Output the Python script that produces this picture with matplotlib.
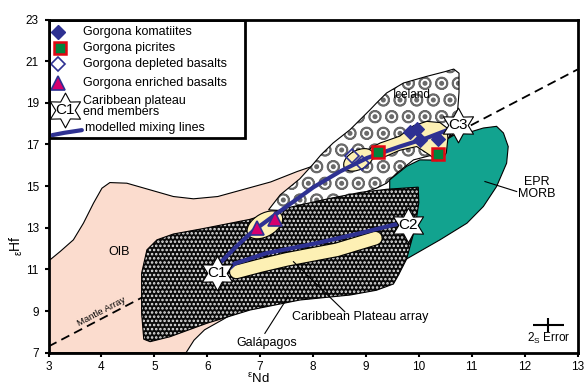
import numpy as np
import matplotlib
matplotlib.use("Agg")
import matplotlib.pyplot as plt
from matplotlib.patches import Polygon, Ellipse, Rectangle
from matplotlib.path import Path
import matplotlib.transforms as mtransforms
import matplotlib.patheffects as pe

plt.rcParams['font.family'] = ['Liberation Sans', 'DejaVu Sans']
plt.rcParams['hatch.linewidth'] = 1.2

# ---------------- data ----------------
x_ticks = [3, 4, 5, 6, 7, 8, 9, 10, 11, 12, 13]
y_ticks = [7, 9, 11, 13, 15, 17, 19, 21, 23]

mantle_x = [3.0, 13.0]
mantle_y = [7.3, 20.6]

oib_field = [(3.0, 7.0), (3.0, 11.4), (3.22, 11.86), (3.47, 12.42), (3.66, 13.22), (3.85, 14.18),
             (4.01, 14.9), (4.16, 15.17), (4.48, 15.14), (4.92, 14.82), (5.36, 14.5), (5.74, 14.39),
             (6.2, 14.5), (6.7, 14.85), (7.2, 15.2), (7.7, 15.7), (8.1, 16.05), (8.3, 15.6),
             (8.4, 14.0), (8.0, 10.5), (7.0, 9.6), (6.5, 8.9), (6.3, 8.6), (5.95, 8.1),
             (5.75, 7.6), (5.6, 7.0)]

iceland_field = [(7.16, 13.86), (7.38, 14.58), (7.75, 15.35), (8.0, 16.05), (8.15, 16.5), (8.38, 17.07),
                 (8.70, 17.71), (8.89, 18.19), (9.08, 18.67), (9.20, 18.99), (9.39, 19.47), (9.71, 19.95),
                 (10.15, 20.27), (10.5, 20.5), (10.66, 20.62), (10.76, 20.42), (10.76, 19.5), (10.73, 18.5),
                 (10.7, 18.0), (10.5, 17.0), (10.27, 16.5), (9.90, 16.26), (9.58, 15.62), (9.39, 15.14),
                 (9.20, 14.9), (8.5, 14.3), (7.6, 13.8)]

morb_field = [(9.45, 15.3), (9.77, 15.95), (10.02, 16.26), (10.3, 16.25), (10.46, 16.6), (10.5, 17.2),
              (10.7, 17.5), (10.91, 17.55), (11.22, 17.79), (11.47, 17.87), (11.6, 17.55), (11.69, 16.9),
              (11.66, 16.1), (11.47, 14.98), (11.22, 14.02), (10.91, 13.22), (10.4, 12.42), (9.96, 11.78),
              (9.74, 11.46), (9.6, 12.5), (9.45, 14.5)]

galapagos_field = [(4.86, 11.94), (5.05, 12.42), (5.36, 12.7), (5.9, 12.95), (6.8, 13.4), (7.5, 13.95),
                   (8.3, 14.4), (8.9, 14.7), (9.4, 14.85), (9.99, 14.95), (10.0, 14.2), (9.93, 13.0),
                   (9.77, 11.5), (9.62, 10.75), (9.52, 10.3), (9.2, 10.0), (8.7, 9.77), (7.75, 9.53),
                   (6.81, 9.05), (5.99, 8.41), (5.30, 7.77), (4.92, 7.53), (4.8, 7.65), (4.76, 8.89),
                   (4.76, 10.82)]

komatiite_field = [(9.02, 16.59), (9.1, 16.85), (9.27, 17.07), (9.64, 17.4), (9.90, 17.9), (10.15, 18.11),
                   (10.40, 18.05), (10.53, 17.8), (10.55, 17.3), (10.52, 16.6), (10.45, 16.3), (10.34, 16.22),
                   (10.2, 16.5), (9.96, 16.9), (9.64, 16.72), (9.33, 16.38), (9.1, 16.3)]

plateau_x = [6.55, 7.0, 7.5, 8.45, 9.18]
plateau_y = [10.88, 11.18, 11.48, 11.94, 12.5]

enriched_field_center = (7.09, 13.14)
depleted_field_center = (8.86, 16.26)

mix_c3_x = [6.27, 6.55, 6.87, 7.38, 8.01, 8.51, 9.02, 9.64, 10.15, 10.6]
mix_c3_y = [11.38, 12.1, 12.85, 13.8, 14.95, 15.7, 16.35, 16.9, 17.31, 17.75]
mix_c2_x = [6.42, 6.52, 7.12, 8.07, 8.89, 9.62]
mix_c2_y = [11.05, 11.28, 11.78, 12.26, 12.74, 13.2]

komatiite_x = [9.83, 9.96, 10.02, 10.37]
komatiite_y = [17.6, 17.72, 17.2, 17.25]
picrite_x = [9.23, 10.37]
picrite_y = [16.63, 16.55]
depleted_x = [8.73, 8.92]
depleted_y = [16.46, 16.11]
enriched_x = [6.94, 7.28]
enriched_y = [13.01, 13.41]

end_names = ['C1', 'C2', 'C3']
end_x = [6.18, 9.80, 10.75]
end_y = [10.82, 13.14, 17.95]

error_x, error_y = 12.45, 8.33
error_dx, error_dy = 0.29, 0.32

# ---------------- colours ----------------
NAVY = '#2E3192'
PINK = '#FBDCCE'
TEAL = '#12A38F'
YELLOW = '#FDF0B4'
GREEN = '#00843D'
RED = '#E30613'
MAGENTA = '#D6006E'

fig = plt.figure(figsize=(5.86, 3.87), dpi=100)
ax = fig.add_axes([0.0828, 0.0886, 0.9027, 0.861])
ax.set_xlim(3, 13)
ax.set_ylim(7, 23)

# fields
ax.add_patch(Polygon(oib_field, closed=True, fc=PINK, ec='black', lw=0.8, zorder=1))
ax.plot(mantle_x, mantle_y, color='black', lw=1.3, linestyle=(0, (5, 3)), zorder=1.5)

ax.add_patch(Polygon(iceland_field, closed=True, fc='white', ec='#6a6a6a', lw=0, hatch='O.', zorder=2))
ax.add_patch(Polygon(iceland_field, closed=True, fill=False, ec='black', lw=0.8, zorder=2.1))

ax.add_patch(Polygon(morb_field, closed=True, fc=TEAL, ec='black', lw=0.8, zorder=2.5))

ax.add_patch(Polygon(galapagos_field, closed=True, fc='#0a0a0a', ec='#e6e6e6', lw=0, hatch='....', zorder=3))
ax.add_patch(Polygon(galapagos_field, closed=True, fill=False, ec='black', lw=0.8, zorder=3.1))

# yellow fields
ax.plot(plateau_x, plateau_y, color=YELLOW, lw=9, solid_capstyle='round', zorder=4,
        path_effects=[pe.Stroke(linewidth=10.6, foreground='black'), pe.Normal()])
ax.add_patch(Polygon(komatiite_field, closed=True, fc=YELLOW, ec='black', lw=0.8, zorder=4))

def pix_ellipse(center, w_in, h_in, ang):
    tr = fig.dpi_scale_trans + mtransforms.ScaledTranslation(center[0], center[1], ax.transData)
    return Ellipse((0, 0), w_in, h_in, angle=ang, transform=tr, fc=YELLOW, ec='black', lw=0.8, zorder=4)

ax.add_patch(pix_ellipse(enriched_field_center, 0.39, 0.23, 30))
ax.add_patch(pix_ellipse(depleted_field_center, 0.32, 0.19, 28))

# leader lines and labels
ax.plot([7.09, 7.53], [7.93, 9.69], color='black', lw=0.8, zorder=4.5)
ax.plot([8.60, 7.63], [8.97, 11.37], color='black', lw=0.8, zorder=4.5)
ax.plot([11.85, 11.25], [14.74, 15.22], color='black', lw=0.8, zorder=4.5)

ax.text(7.12, 7.45, 'Galápagos', fontsize=9, ha='center', va='center', zorder=5)
ax.text(8.89, 8.70, 'Caribbean Plateau array', fontsize=9, ha='center', va='center', zorder=5)
ax.text(12.23, 14.9, 'EPR\nMORB', fontsize=9, ha='center', va='center', linespacing=1.0, zorder=5)
ax.text(4.34, 11.86, 'OIB', fontsize=9, ha='center', va='center', zorder=5)
ax.text(9.87, 19.39, 'Iceland', fontsize=8.5, ha='center', va='center', zorder=5)
ax.text(4.01, 8.95, 'Mantle Array', fontsize=6.8, ha='center', va='center', rotation=27.6,
        rotation_mode='anchor', zorder=5)

# mixing lines
ax.plot(mix_c3_x, mix_c3_y, color=NAVY, lw=3, solid_capstyle='round', zorder=5)
ax.plot(mix_c2_x, mix_c2_y, color=NAVY, lw=3, solid_capstyle='round', zorder=5)

# data points
ax.plot(komatiite_x, komatiite_y, 'D', ms=7.5, mfc=NAVY, mec=NAVY, mew=0.8, ls='none', zorder=6)
ax.plot(picrite_x, picrite_y, 's', ms=9, mfc=GREEN, mec=RED, mew=1.8, ls='none', zorder=6)
ax.plot(depleted_x, depleted_y, 'D', ms=7.5, mfc='none', mec=NAVY, mew=1.2, ls='none', zorder=6)
ax.plot(enriched_x, enriched_y, '^', ms=10, mfc=MAGENTA, mec=NAVY, mew=1.2, ls='none', zorder=6)

star6 = Path.unit_regular_star(6, 0.56)
ax.plot(end_x, end_y, marker=star6, ms=25, mfc='white', mec='black', mew=0.8, ls='none', zorder=7)
for n, xx, yy in zip(end_names, end_x, end_y):
    ax.text(xx, yy, n, fontsize=11, ha='center', va='center', zorder=8)

# error cross
ax.errorbar([error_x], [error_y], xerr=[error_dx], yerr=[error_dy], fmt='none', ecolor='black',
            elinewidth=1.5, capsize=0, zorder=6)
ax.text(error_x, 7.69, r'$\mathregular{2_S}$ Error', fontsize=8.5, ha='center', va='center', zorder=6)

# legend (drawn manually)
T = ax.transAxes
ax.add_patch(Rectangle((0.0, 0.644), 0.371, 0.356, transform=T, fc='white', ec='black', lw=2, zorder=9))
lx, tx = 0.018, 0.065
ax.plot([lx], [0.9625], 'D', transform=T, ms=7.5, mfc=NAVY, mec=NAVY, zorder=10)
ax.plot([lx + 0.003], [0.914], 's', transform=T, ms=9, mfc=GREEN, mec=RED, mew=1.8, zorder=10)
ax.plot([lx], [0.866], 'D', transform=T, ms=7.5, mfc='none', mec=NAVY, mew=1.2, zorder=10)
ax.plot([lx], [0.809], '^', transform=T, ms=10, mfc=MAGENTA, mec=NAVY, mew=1.2, zorder=10)
ax.plot([0.031], [0.728], marker=star6, transform=T, ms=25, mfc='white', mec='black', mew=0.8, zorder=10)
ax.text(0.031, 0.728, 'C1', transform=T, fontsize=11, ha='center', va='center', zorder=11)
ax.plot([0.007, 0.03, 0.063], [0.653, 0.660, 0.668], transform=T, color=NAVY, lw=3,
        solid_capstyle='round', zorder=10)
leg_items = [('Gorgona komatiites', 0.9625), ('Gorgona picrites', 0.914),
             ('Gorgona depleted basalts', 0.866), ('Gorgona enriched basalts', 0.809)]
for s, yy in leg_items:
    ax.text(tx, yy, s, transform=T, fontsize=9, ha='left', va='center', zorder=11)
ax.text(tx, 0.739, 'Caribbean plateau\nend members', transform=T, fontsize=9, ha='left', va='center',
        linespacing=0.95, zorder=11)
ax.text(tx + 0.004, 0.674, 'modelled mixing lines', transform=T, fontsize=9, ha='left', va='center', zorder=11)

# axes styling
ax.set_xticks(x_ticks)
ax.set_yticks(y_ticks)
ax.tick_params(axis='both', direction='out', length=3, width=1.5, labelsize=8.5, pad=4)
ax.tick_params(axis='x', pad=3)
for sp in ax.spines.values():
    sp.set_linewidth(2)
    sp.set_zorder(12)
ax.text(0.396, -0.099, r'$\mathregular{^{ε}Nd}$', transform=T, fontsize=9.5, ha='center', va='bottom')
ax.text(-0.06, 0.323, r'$\mathregular{_{ε}Hf}$', transform=T, fontsize=10, ha='center', va='center',
        rotation=90)

fig.savefig('out.png', dpi=100)
